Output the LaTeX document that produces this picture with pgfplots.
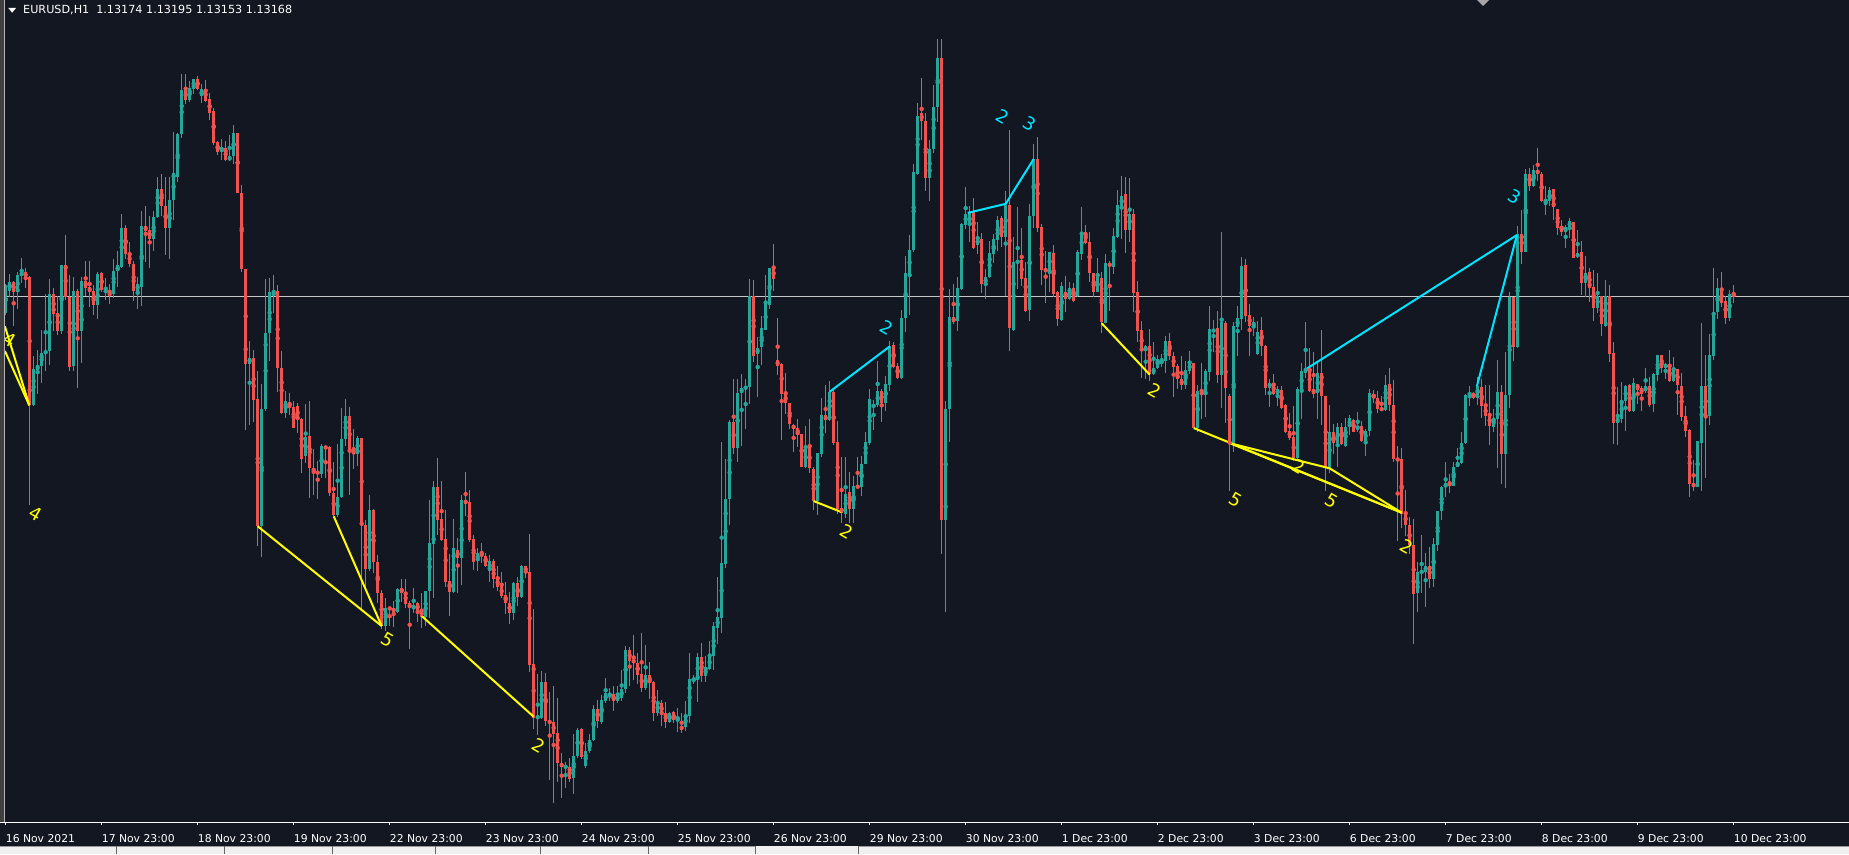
\documentclass[border=0pt]{standalone}
\usepackage{pgfplots}
\pgfplotsset{compat=1.18}
\usepackage{pgfplotstable}
\usepackage{fontspec}
\setmainfont{DejaVu Sans}
\definecolor{bg}{HTML}{131722}
\definecolor{bull}{HTML}{26A69A}
\definecolor{bear}{HTML}{EF5350}
\definecolor{zzcyan}{HTML}{00E5FF}
\definecolor{zzyel}{HTML}{FFFF00}
\definecolor{bidline}{HTML}{C8C8C8}

% candles: i = bar index, o h l c in screen units (larger = lower price)
\pgfplotstableread{
i o h l c
0 562 505 565 507
1 518 485 530 500
2 500 498 587 521
3 521 480 553 486
4 488 453 503 480
5 480 472 513 492
6 490 488 942 745
7 745 647 746 672
8 675 635 723 665
9 667 596 700 641
10 642 524 676 637
11 637 494 665 524
12 524 513 597 563
13 562 528 605 598
14 598 466 604 466
15 466 407 535 530
16 530 487 676 669
17 667 490 676 518
18 518 514 710 598
19 597 490 660 498
20 498 458 528 512
21 510 458 550 520
22 518 506 565 545
23 545 480 573 484
24 483 480 520 516
25 521 492 535 516
26 516 505 543 523
27 523 455 532 478
28 479 438 510 467
29 470 365 472 393
30 393 387 455 445
31 443 420 470 465
32 464 458 538 518
33 518 490 553 504
34 510 360 547 389
35 389 349 460 398
36 397 370 473 415
37 414 360 438 371
38 371 292 373 316
39 316 285 370 350
40 349 292 447 393
41 393 292 455 337
42 338 202 378 284
43 291 205 301 206
44 207 87 215 119
45 119 87 146 139
46 139 102 143 115
47 117 97 128 97
48 97 92 120 117
49 131 107 145 117
50 117 99 142 140
51 137 125 179 165
52 160 155 229 224
53 222 220 248 242
54 242 216 258 232
55 234 221 260 259
56 259 208 260 251
57 251 189 265 204
58 204 204 323 323
59 323 308 480 474
60 474 474 793 662
61 662 617 783 651
62 651 635 778 735
63 732 677 1025 985
64 985 703 1045 752
65 752 494 756 601
66 602 492 656 520
67 522 487 561 518
68 518 506 718 670
69 671 637 762 760
70 760 717 771 737
71 739 720 765 750
72 748 737 790 789
73 746 740 800 773
74 772 770 880 851
75 846 742 860 808
76 806 737 928 870
77 869 832 922 877
78 875 855 930 882
79 882 822 889 826
80 827 826 890 830
81 828 826 925 918
82 918 857 965 963
83 963 822 967 926
84 926 750 928 812
85 812 732 825 767
86 767 748 922 838
87 836 792 872 841
88 841 806 866 810
89 810 810 1150 983
90 983 973 1110 1070
91 1070 923 1073 953
92 953 950 1077 1055
93 1055 1043 1138 1118
94 1118 1111 1188 1183
95 1183 1127 1192 1147
96 1146 1145 1182 1150
97 1147 1133 1185 1155
98 1155 1108 1158 1110
99 1108 1090 1135 1117
100 1115 1090 1147 1140
101 1138 1133 1228 1148
102 1150 1108 1158 1142
103 1138 1135 1175 1152
104 1152 1118 1187 1165
105 1165 1113 1183 1113
106 1113 933 1167 1018
107 1020 895 1127 907
108 907 849 1003 972
109 970 895 1015 1012
110 1010 953 1105 1095
111 1093 1040 1163 1115
112 1115 971 1117 1028
113 1032 1008 1118 1048
114 1047 923 1102 933
115 933 877 965 940
116 937 913 1017 1012
117 1010 1003 1072 1055
118 1053 1028 1073 1038
119 1040 1018 1058 1043
120 1044 1038 1065 1063
121 1073 1043 1095 1053
122 1053 1050 1108 1090
123 1088 1063 1113 1105
124 1104 1075 1127 1123
125 1122 1095 1160 1138
126 1137 1115 1178 1157
127 1157 1095 1172 1098
128 1098 1085 1143 1125
129 1125 1061 1127 1063
130 1063 1063 1087 1077
131 1075 1000 1275 1260
132 1258 1150 1387 1365
133 1366 1278 1400 1362
134 1365 1272 1368 1294
135 1294 1277 1382 1372
136 1372 1313 1488 1375
137 1373 1303 1535 1397
138 1395 1326 1493 1455
139 1455 1435 1525 1463
140 1465 1453 1505 1460
141 1462 1445 1492 1487
142 1485 1397 1517 1440
143 1440 1385 1445 1389
144 1387 1385 1447 1443
145 1460 1415 1465 1431
146 1432 1398 1435 1410
147 1410 1340 1411 1348
148 1348 1330 1385 1372
149 1373 1320 1378 1330
150 1332 1286 1335 1316
151 1322 1306 1332 1320
152 1318 1302 1352 1332
153 1332 1302 1336 1320
154 1325 1270 1332 1308
155 1308 1223 1316 1231
156 1231 1225 1302 1252
157 1250 1201 1290 1256
158 1256 1237 1298 1280
159 1278 1197 1313 1306
160 1306 1221 1309 1280
161 1280 1254 1328 1296
162 1294 1292 1372 1356
163 1356 1310 1362 1334
164 1336 1330 1381 1358
165 1356 1334 1385 1374
166 1374 1353 1375 1355
167 1354 1352 1376 1370
168 1368 1345 1393 1364
169 1381 1355 1395 1389
170 1383 1332 1392 1360
171 1362 1237 1375 1288
172 1290 1280 1298 1289
173 1290 1237 1333 1244
174 1244 1217 1295 1283
175 1283 1242 1294 1264
176 1268 1213 1270 1242
177 1242 1175 1270 1183
178 1187 1085 1218 1165
179 1167 818 1197 1058
180 1060 851 1068 930
181 930 775 982 778
182 778 693 842 830
183 830 693 858 720
184 720 682 826 711
185 713 693 792 707
186 709 494 743 528
187 528 496 658 648
188 643 609 729 631
189 630 568 664 591
190 595 486 596 544
191 546 472 553 472
192 472 425 518 494
193 655 572 685 667
194 662 660 813 722
195 722 680 762 740
196 740 740 792 782
197 784 782 837 792
198 790 772 828 803
199 802 802 868 868
200 868 786 870 828
201 828 772 880 870
202 871 868 953 935
203 935 840 963 840
204 842 730 848 765
205 765 705 800 775
206 775 697 776 718
207 718 715 823 820
208 818 776 960 950
209 948 848 978 958
210 960 847 968 920
211 917 878 978 950
212 950 886 978 905
213 905 848 910 908
214 908 846 925 861
215 861 797 862 818
216 820 712 823 732
217 747 735 793 745
218 745 657 748 717
219 717 712 778 740
220 740 687 757 703
221 705 618 716 628
222 626 620 670 668
223 667 660 693 690
224 690 556 693 572
225 572 448 600 482
226 486 407 566 437
227 437 265 440 282
228 285 145 288 170
229 165 95 218 181
230 180 165 320 293
231 293 218 340 237
232 237 110 245 152
233 152 18 183 56
234 56 18 1040 972
235 972 737 1155 752
236 752 515 817 570
237 570 505 583 580
238 578 490 598 513
239 515 383 516 385
240 387 312 395 365
241 388 350 420 362
242 362 333 434 432
243 427 381 445 413
244 415 402 522 505
245 505 475 533 490
246 491 418 493 443
247 445 405 462 415
248 416 370 438 377
249 373 370 430 410
250 410 320 528 347
251 347 198 638 592
252 596 411 597 460
253 463 351 515 457
254 456 393 508 495
255 493 460 560 557
256 556 346 577 369
257 370 226 393 256
258 256 212 400 393
259 391 385 507 477
260 475 438 541 478
261 478 440 520 441
262 443 427 530 523
263 521 518 588 573
264 576 500 578 508
265 520 488 560 533
266 533 500 535 513
267 513 503 540 537
268 528 437 530 440
269 444 352 456 400
270 400 387 425 423
271 420 400 500 483
272 482 482 530 520
273 520 453 520 490
274 492 480 602 580
275 582 445 582 463
276 463 458 558 469
277 470 393 485 408
278 410 318 413 348
279 350 290 415 330
280 326 292 443 396
281 396 293 420 365
282 365 355 560 522
283 520 498 620 598
284 595 578 690 638
285 638 625 692 628
286 628 593 697 683
287 683 620 685 670
288 670 645 672 653
289 662 643 668 655
290 657 607 680 617
291 617 602 655 648
292 647 640 728 668
293 667 663 713 693
294 693 647 715 705
295 705 657 713 675
296 677 637 683 660
297 660 660 790 790
298 790 705 798 717
299 717 660 773 725
300 725 673 768 677
301 678 548 697 593
302 600 575 640 593
303 591 557 700 685
304 685 400 750 580
305 582 577 780 710
306 727 723 915 820
307 820 580 838 588
308 590 547 648 572
309 574 450 595 468
310 466 454 580 568
311 566 543 648 587
312 588 570 607 580
313 643 578 645 599
314 595 570 647 627
315 627 625 725 710
316 710 693 748 700
317 700 683 725 723
318 723 707 746 713
319 714 707 752 750
320 745 743 800 797
321 795 760 813 810
322 808 746 855 850
323 850 708 853 712
324 715 660 772 677
325 680 580 690 670
326 670 632 718 717
327 713 640 730 722
328 720 657 773 680
329 680 595 783 727
330 726 726 915 870
331 870 745 880 798
332 798 782 842 820
333 820 780 868 788
334 788 780 823 822
335 825 770 828 788
336 788 765 803 770
337 775 772 798 797
338 793 758 797 785
339 785 776 818 815
340 815 792 845 796
341 796 713 805 720
342 722 715 740 730
343 730 717 760 752
344 750 727 757 755
345 755 684 756 705
346 703 670 757 745
347 745 695 858 852
348 850 825 1015 855
349 852 830 988 960
350 958 913 1005 983
351 983 967 1040 1022
352 1022 970 1218 1120
353 1118 1055 1156 1076
354 1078 1003 1117 1073
355 1076 1038 1146 1063
356 1063 1027 1108 1090
357 1090 1008 1105 1020
358 1022 955 1035 955
359 955 905 972 907
360 908 857 927 900
361 898 881 918 905
362 905 858 906 868
363 867 830 868 858
364 860 798 862 820
365 820 722 822 725
366 725 707 747 720
367 720 718 733 730
368 730 688 745 707
369 708 693 770 747
370 745 705 785 767
371 765 705 823 785
372 787 752 797 770
373 773 655 870 718
374 718 705 902 842
375 842 640 910 725
376 725 520 750 530
377 530 530 657 630
378 630 390 632 405
379 405 357 465 440
380 440 275 441 285
381 285 273 320 310
382 310 267 312 278
383 278 235 300 285
384 285 282 342 340
385 348 310 368 337
386 340 312 350 318
387 316 316 377 352
388 355 355 407 392
389 390 377 408 400
390 400 388 433 391
391 392 373 413 379
392 381 381 453 453
393 451 397 453 443
394 441 419 526 503
395 503 449 530 482
396 480 472 540 512
397 510 476 578 552
398 552 482 562 527
399 528 528 607 584
400 587 496 590 528
401 528 506 658 643
402 641 620 822 780
403 780 709 823 770
404 772 698 780 734
405 737 704 796 707
406 705 703 758 757
407 757 690 758 700
408 702 702 742 715
409 710 707 756 722
410 717 671 720 707
411 707 689 748 745
412 742 681 758 683
413 685 645 697 645
414 645 645 680 670
415 671 660 693 663
416 665 635 698 697
417 697 649 698 675
418 673 673 765 705
419 707 680 776 768
420 766 746 808 796
421 793 792 927 901
422 900 853 915 907
423 907 816 907 816
424 820 582 915 707
425 707 645 889 767
426 767 603 784 645
427 647 472 655 562
428 560 492 574 512
429 514 480 550 542
430 537 527 584 572
431 572 516 578 524
432 524 506 542 528
}\candles

\begin{document}
\begin{tikzpicture}
\fill[bg] (0,-32pt) rectangle (1849pt,822pt);
\begin{axis}[
  at={(0,0)}, anchor=south west,
  scale only axis, width=1849pt, height=822pt,
  xmin=-1.425, xmax=460.825,
  ymin=-59.54, ymax=1571.97, y dir=reverse,
  axis line style={draw=none},
  ytick=\empty,
  xtick={0,24,...,432},
  xticklabels={16 Nov 2021,17 Nov 23:00,18 Nov 23:00,19 Nov 23:00,22 Nov 23:00,23 Nov 23:00,24 Nov 23:00,25 Nov 23:00,26 Nov 23:00,29 Nov 23:00,30 Nov 23:00,1 Dec 23:00,2 Dec 23:00,3 Dec 23:00,6 Dec 23:00,7 Dec 23:00,8 Dec 23:00,9 Dec 23:00,10 Dec 23:00},
  xtick pos=bottom,
  tick align=outside,
  major tick length=3pt,
  xtick style={draw=white, line width=1pt},
  xticklabel style={font=\fontsize{10.8}{13}\selectfont, text=white, anchor=base west, inner sep=0pt, xshift=0pt, yshift=-17pt},
]
% bid line
\draw[bidline, line width=1pt] (axis cs:-1.425,528) -- (axis cs:460.825,528);
% bullish wicks and bodies
\addplot[only marks, mark=none, color=bull, forget plot, restrict y to domain=-1000:3000,
  error bars/.cd, y dir=both, y explicit, error mark=none,
  error bar style={line width=1pt, color=bull}]
  table[x=i, y expr={(\thisrow{h}+\thisrow{l})/2 + 10000*(\thisrow{c}>\thisrow{o})},
        y error expr={(\thisrow{l}-\thisrow{h})/2}] {\candles};
\addplot[only marks, mark=none, color=bull, forget plot, restrict y to domain=-1000:3000,
  error bars/.cd, y dir=both, y explicit, error mark=none,
  error bar style={line width=3.2pt, color=bull}]
  table[x=i, y expr={(\thisrow{o}+\thisrow{c})/2 + 10000*(\thisrow{c}>\thisrow{o})},
        y error expr={max(abs(\thisrow{c}-\thisrow{o})/2,1)}] {\candles};
% bearish wicks and bodies
\addplot[only marks, mark=none, color=bear, forget plot, restrict y to domain=-1000:3000,
  error bars/.cd, y dir=both, y explicit, error mark=none,
  error bar style={line width=1pt, color=bear}]
  table[x=i, y expr={(\thisrow{h}+\thisrow{l})/2 + 10000*(1-(\thisrow{c}>\thisrow{o}))},
        y error expr={(\thisrow{l}-\thisrow{h})/2}] {\candles};
\addplot[only marks, mark=none, color=bear, forget plot, restrict y to domain=-1000:3000,
  error bars/.cd, y dir=both, y explicit, error mark=none,
  error bar style={line width=3.2pt, color=bear}]
  table[x=i, y expr={(\thisrow{o}+\thisrow{c})/2 + 10000*(1-(\thisrow{c}>\thisrow{o}))},
        y error expr={max(abs(\thisrow{c}-\thisrow{o})/2,1)}] {\candles};
% zigzag wave lines
\addplot[zzyel, line width=2pt, no markers] coordinates {(-0.2,588) (5.9,745)};
\addplot[zzyel, line width=2pt, no markers] coordinates {(-0.2,637) (5.9,745)};
\addplot[zzyel, line width=2pt, no markers] coordinates {(63,985) (94,1183)};
\addplot[zzyel, line width=2pt, no markers] coordinates {(82,965) (94,1183)};
\addplot[zzyel, line width=2pt, no markers] coordinates {(104,1163) (132,1363)};
\addplot[zzyel, line width=2pt, no markers] coordinates {(202,935) (209,957)};
\addplot[zzcyan, line width=2pt, no markers] coordinates {(206,718) (221,628)};
\addplot[zzcyan, line width=2pt, no markers] coordinates {(240.5,363) (250,345) (257,256)};
\addplot[zzyel, line width=2pt, no markers] coordinates {(274,582) (286,684)};
\addplot[zzyel, line width=2pt, no markers] coordinates {(297,790) (349,958)};
\addplot[zzyel, line width=2pt, no markers] coordinates {(306,820) (349,958)};
\addplot[zzyel, line width=2pt, no markers] coordinates {(306,820) (331,870) (349,958)};
\addplot[zzcyan, line width=2pt, no markers] coordinates {(324.7,675) (377.8,407)};
\addplot[zzcyan, line width=2pt, no markers] coordinates {(367.8,707) (377.8,407)};
% wave labels
\begin{scope}[every node/.style={font=\fontsize{18}{18}\selectfont, inner sep=0pt, rotate=-30}]
\node[text=zzyel] at (axis cs:1.1,615) {4};
\node[text=zzyel] at (axis cs:7.6,960) {4};
\node[text=zzyel] at (axis cs:95.4,1211) {5};
\node[text=zzyel] at (axis cs:133.2,1420) {2};
\node[text=zzyel] at (axis cs:210.2,996) {2};
\node[text=zzcyan] at (axis cs:220.3,591) {2};
\node[text=zzcyan] at (axis cs:249.2,172) {2};
\node[text=zzcyan] at (axis cs:256.1,186) {3};
\node[text=zzyel] at (axis cs:287.3,715) {2};
\node[text=zzyel] at (axis cs:307.4,932) {5};
\node[text=zzyel] at (axis cs:323.4,867) {2};
\node[text=zzyel] at (axis cs:331.4,934) {5};
\node[text=zzyel] at (axis cs:350.2,1026) {2};
\node[text=zzcyan] at (axis cs:377.2,331) {3};
\end{scope}
\end{axis}
% chart frame decorations
\fill[black!75] (0,0) rectangle (4pt,822pt);
\draw[gray!60, line width=1pt] (4.5pt,0) -- (4.5pt,822pt);
\draw[white, line width=1pt] (0,-0.5pt) -- (1849pt,-0.5pt);
% title
\fill[white] (8.3pt,814pt) -- (16pt,814pt) -- (12.15pt,809.3pt) -- cycle;
\node[anchor=base west, text=white, font=\fontsize{11.2}{13}\selectfont, inner sep=0pt]
  at (23pt,808pt) {EURUSD,H1\hspace{7pt}1.13174 1.13195 1.13153 1.13168};
% shift marker
\fill[gray!70] (1477pt,822pt) -- (1489pt,822pt) -- (1483pt,816pt) -- cycle;
% tab bar
\fill[black!6] (0,-24pt) rectangle (1849pt,-32pt);
\draw[black!40, line width=0.8pt] (0,-24.4pt) -- (755pt,-24.4pt);
\draw[black!40, line width=0.8pt] (858pt,-24.4pt) -- (1849pt,-24.4pt);
\foreach \s in {116,224,332,435,540,648,755,858}
  \draw[black!60, line width=0.8pt] (\s pt,-24pt) -- (\s pt,-32pt);
\pgfresetboundingbox
\path[use as bounding box] (0,-32pt) rectangle (1849pt,822pt);
\end{tikzpicture}
\end{document}
